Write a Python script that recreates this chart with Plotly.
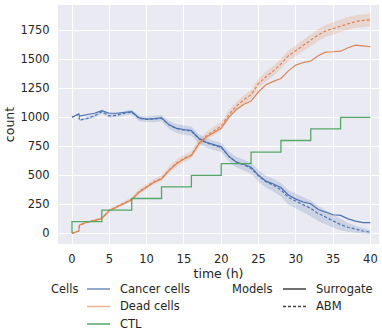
import plotly.graph_objects as go

# ---------------- data ----------------
t = [0, 0.9, 1.0, 2, 3, 4, 5, 6, 7, 8, 9, 10, 11, 12, 13, 14, 15, 16, 17, 18, 19, 20,
     21, 22, 23, 24, 25, 26, 27, 28, 29, 30, 31, 32, 33, 34, 35, 36, 37, 38, 39, 40]

cancer_surrogate = [1000, 1028, 1010, 1022, 1035, 1058, 1035, 1035, 1042, 1048, 995, 985, 988, 995,
                    935, 905, 895, 885, 820, 785, 765, 745, 665, 615, 595, 570, 500, 450, 425,
                    395, 330, 295, 270, 255, 205, 180, 160, 155, 125, 105, 92, 92]
cancer_abm = [1000, 1028, 975, 990, 1012, 1048, 1012, 1018, 1035, 1045, 990, 983, 985, 992,
              935, 905, 890, 880, 815, 780, 760, 740, 665, 615, 590, 560, 495, 445, 415,
              375, 310, 275, 245, 215, 170, 140, 105, 75, 52, 35, 20, 10]
cancer_abm_sd = [0, 6, 6, 12, 15, 18, 18, 18, 20, 22, 24, 25, 27, 28, 33, 38, 40, 40, 40, 40, 40, 40,
                 42, 45, 46, 46, 50, 52, 55, 58, 62, 65, 66, 68, 65, 60, 55, 48, 38, 30, 24, 18]

dead_surrogate = [0, 20, 70, 95, 110, 128, 195, 225, 255, 290, 355, 400, 440, 468, 540, 600,
                  640, 670, 770, 830, 870, 905, 1000, 1065, 1110, 1140, 1220, 1280, 1310, 1335,
                  1400, 1450, 1472, 1485, 1530, 1562, 1565, 1570, 1600, 1622, 1615, 1608]
dead_abm = [0, 20, 70, 97, 112, 130, 198, 228, 258, 293, 360, 405, 445, 475, 545, 605,
            645, 675, 775, 840, 885, 925, 1020, 1095, 1150, 1195, 1290, 1350, 1400, 1460,
            1530, 1575, 1620, 1660, 1710, 1745, 1765, 1790, 1810, 1825, 1835, 1840]
dead_abm_sd = [0, 6, 8, 10, 11, 12, 14, 15, 17, 19, 21, 22, 24, 25, 28, 31, 32, 32, 34, 35, 36, 38,
               38, 38, 39, 40, 42, 44, 44, 44, 46, 47, 48, 50, 51, 52, 54, 55, 55, 55, 55, 55]

ctl_t = [0, 0, 4, 8, 12, 16, 20, 24, 28, 32, 36, 40]
ctl = [0, 100, 200, 300, 400, 500, 600, 700, 800, 900, 1000, 1000]

x_ticks = [0, 5, 10, 15, 20, 25, 30, 35, 40]
y_ticks = [0, 250, 500, 750, 1000, 1250, 1500, 1750]

BLUE = "#4C72B0"
ORANGE = "#DD8452"
GREEN = "#55A868"
TXT = "#262626"
FONT = "DejaVu Sans"

fig = go.Figure()


def band(x, mean, sd, rgba):
    upper = [m + s for m, s in zip(mean, sd)]
    lower = [m - s for m, s in zip(mean, sd)]
    fig.add_trace(go.Scatter(x=x + x[::-1], y=upper + lower[::-1], fill="toself",
                             fillcolor=rgba, line=dict(width=0), hoverinfo="skip",
                             showlegend=False, mode="lines"))


band(t, cancer_abm, cancer_abm_sd, "rgba(76,114,176,0.2)")
band(t, dead_abm, dead_abm_sd, "rgba(221,132,82,0.2)")

fig.add_trace(go.Scatter(x=t, y=cancer_abm, mode="lines", line=dict(color=BLUE, width=1.2, dash="3px,2px"),
                         showlegend=False, name="Cancer cells ABM"))
fig.add_trace(go.Scatter(x=t, y=dead_abm, mode="lines", line=dict(color=ORANGE, width=1.2, dash="3px,2px"),
                         showlegend=False, name="Dead cells ABM"))
fig.add_trace(go.Scatter(x=t, y=cancer_surrogate, mode="lines", line=dict(color=BLUE, width=1.2),
                         showlegend=False, name="Cancer cells Surrogate"))
fig.add_trace(go.Scatter(x=t, y=dead_surrogate, mode="lines", line=dict(color=ORANGE, width=1.2),
                         showlegend=False, name="Dead cells Surrogate"))
fig.add_trace(go.Scatter(x=ctl_t, y=ctl, mode="lines", line=dict(color=GREEN, width=1.3, shape="hv"),
                         showlegend=False, name="CTL"))

# plot-area pixel geometry
L, R, T, B = 58, 379, 5, 244
W, H = 382, 333


def px(xp):
    return (xp - L) / (R - L)


def py(yp):
    return (B - yp) / (B - T)


shapes = []
annos = []


def legend_row(label_x, text_x, x0, x1, y, text, color, dash="solid", title=None):
    shapes.append(dict(type="line", xref="paper", yref="paper", x0=px(x0), x1=px(x1), y0=py(y), y1=py(y),
                       line=dict(color=color, width=1.5, dash=dash)))
    annos.append(dict(xref="paper", yref="paper", x=px(text_x), y=py(y), text=text, showarrow=False,
                      xanchor="left", yanchor="middle", font=dict(size=11.5, color=TXT, family=FONT)))
    if title:
        annos.append(dict(xref="paper", yref="paper", x=px(label_x), y=py(y), text=title, showarrow=False,
                          xanchor="right", yanchor="middle", font=dict(size=11.5, color=TXT, family=FONT)))


legend_row(81, 118, 87, 110, 289, "Cancer cells", "rgba(76,114,176,0.8)", title="Cells")
legend_row(81, 118, 87, 110, 306.5, "Dead cells", "rgba(221,132,82,0.6)")
legend_row(81, 118, 87, 110, 324, "CTL", GREEN)
legend_row(275, 314, 283, 306, 289, "Surrogate", "#404040", title="Models")
legend_row(275, 314, 283, 306, 306.5, "ABM", "#404040", dash="3px,2px")

fig.update_layout(
    width=W, height=H,
    margin=dict(l=L, r=W - R, t=T, b=H - B),
    paper_bgcolor="white",
    plot_bgcolor="#EAEAF2",
    font=dict(family=FONT, size=11, color=TXT),
    showlegend=False,
    shapes=shapes,
    annotations=annos,
    xaxis=dict(range=[-1.88, 41.15], tickvals=x_ticks, showgrid=True, gridcolor="white", gridwidth=1,
               zeroline=False, showline=False, ticks="outside", ticklen=4, tickcolor="rgba(0,0,0,0)",
               tickfont=dict(size=11.5, color=TXT),
               title=dict(text="time (h)", font=dict(size=12.5, color=TXT), standoff=1)),
    yaxis=dict(range=[-92, 1968], tickvals=y_ticks, showgrid=True, gridcolor="white", gridwidth=1,
               zeroline=False, showline=False, ticks="outside", ticklen=5, tickcolor="rgba(0,0,0,0)",
               tickfont=dict(size=11.5, color=TXT),
               title=dict(text="count", font=dict(size=12.5, color=TXT), standoff=3)),
)

fig.write_html("out.html")
